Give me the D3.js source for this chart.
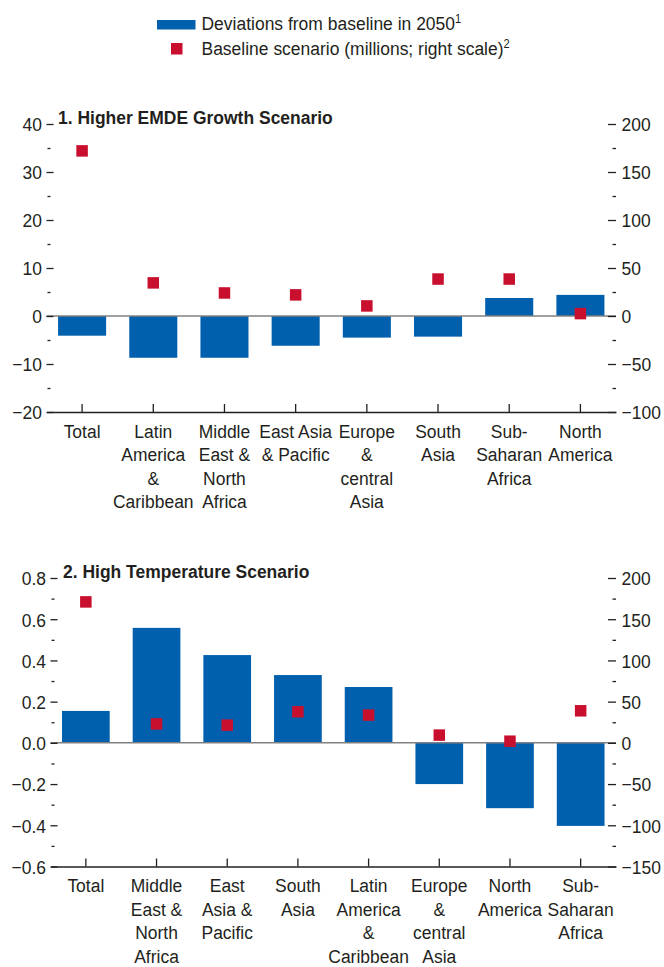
<!DOCTYPE html>
<html>
<head>
<meta charset="utf-8">
<script src="https://cdn.jsdelivr.net/npm/d3@7"></script>
<style>
  html, body { margin: 0; padding: 0; background: #fff; }
  svg { display: block; }
  text { font-family: "Liberation Sans", Arial, sans-serif; fill: #231f20; }
</style>
</head>
<body>
<svg id="chart" width="664" height="967"></svg>
<script>
// Panel 1: Higher EMDE Growth Scenario
const categories1 = [
  ["Total"],
  ["Latin", "America", "&", "Caribbean"],
  ["Middle", "East &", "North", "Africa"],
  ["East Asia", "& Pacific"],
  ["Europe", "&", "central", "Asia"],
  ["South", "Asia"],
  ["Sub-", "Saharan", "Africa"],
  ["North", "America"]
];
const deviations1 = [-4.1, -8.7, -8.7, -6.2, -4.5, -4.3, 3.75, 4.4];
const baseline1 = [172, 34.5, 24, 22, 10.5, 38.5, 38.5, 2.5];
const leftTicks1 = [-20, -10, 0, 10, 20, 30, 40];
const leftMinor1 = [-15, -5, 5, 15, 25, 35];
const rightTicks1 = [-100, -50, 0, 50, 100, 150, 200];
const rightMinor1 = [-75, -25, 25, 75, 125, 175];

// Panel 2: High Temperature Scenario
const categories2 = [
  ["Total"],
  ["Middle", "East &", "North", "Africa"],
  ["East", "Asia &", "Pacific"],
  ["South", "Asia"],
  ["Latin", "America", "&", "Caribbean"],
  ["Europe", "&", "central", "Asia"],
  ["North", "America"],
  ["Sub-", "Saharan", "Africa"]
];
const deviations2 = [0.155, 0.558, 0.426, 0.329, 0.271, -0.2, -0.317, -0.403];
const baseline2 = [171, 23, 21.5, 37.7, 33.7, 9.4, 2, 38.9];
const leftTicks2 = [-0.6, -0.4, -0.2, 0, 0.2, 0.4, 0.6, 0.8];
const leftMinor2 = [-0.5, -0.3, -0.1, 0.1, 0.3, 0.5, 0.7];
const rightTicks2 = [-150, -100, -50, 0, 50, 100, 150, 200];
const rightMinor2 = [-125, -75, -25, 25, 75, 125, 175];

const BLUE = "#0060ae";
const RED = "#c8102e";
const INK = "#231f20";
const FS = 19;      // base font size
const SX = 0.92;    // horizontal squeeze for the condensed look

const svg = d3.select("#chart");

// Legend
const legend = svg.append("g");
legend.append("rect").attr("x", 157).attr("y", 20).attr("width", 38.5).attr("height", 9.5).attr("fill", BLUE);
legend.append("rect").attr("x", 171).attr("y", 43).attr("width", 11.5).attr("height", 11.5).attr("fill", RED);
function legendText(y, main, sup) {
  const t = legend.append("text")
    .attr("transform", `translate(201.5,${y}) scale(${SX},1)`)
    .style("font-size", FS + "px");
  t.append("tspan").text(main);
  t.append("tspan").attr("dy", -7).style("font-size", "12px").text(sup);
}
legendText(30, "Deviations from baseline in 2050", "1");
legendText(54.5, "Baseline scenario (millions; right scale)", "2");

function drawPanel(cfg) {
  const g = svg.append("g");
  const x = d3.scaleBand()
    .domain(d3.range(cfg.categories.length))
    .range([cfg.left, cfg.right])
    .paddingInner(0.325)
    .paddingOuter(0.1625);
  const yL = d3.scaleLinear().domain(cfg.leftDomain).range([cfg.bottom, cfg.top]);
  const yR = d3.scaleLinear().domain(cfg.rightDomain).range([cfg.bottom, cfg.top]);

  // Bars
  g.append("g").selectAll("rect")
    .data(cfg.deviations)
    .join("rect")
    .attr("x", (d, i) => x(i))
    .attr("width", x.bandwidth())
    .attr("y", d => yL(Math.max(0, d)))
    .attr("height", d => Math.abs(yL(d) - yL(0)))
    .attr("fill", BLUE);

  // Zero line
  g.append("line")
    .attr("x1", cfg.left).attr("x2", cfg.right)
    .attr("y1", yL(0)).attr("y2", yL(0))
    .attr("stroke", "#808080").attr("stroke-width", 1.5);

  // Baseline markers (right scale)
  const sq = 11.5;
  g.append("g").selectAll("rect")
    .data(cfg.baseline)
    .join("rect")
    .attr("x", (d, i) => x(i) + x.bandwidth() / 2 - sq / 2)
    .attr("y", d => yR(d) - sq / 2)
    .attr("width", sq).attr("height", sq)
    .attr("fill", RED);

  function styleAxis(sel, anchor) {
    sel.select(".domain").remove();
    sel.selectAll(".tick line").attr("stroke", INK).attr("stroke-width", 1.3);
    sel.selectAll(".tick text")
      .attr("fill", INK)
      .attr("dy", null)
      .attr("y", 6.8)
      .style("font-size", FS + "px")
      .style("font-family", "'Liberation Sans', Arial, sans-serif")
      .attr("text-anchor", anchor)
      .attr("transform", function () {
        const xx = +d3.select(this).attr("x");
        d3.select(this).attr("x", 0);
        return `translate(${xx},0) scale(${SX},1)`;
      });
  }

  // Left axis (ticks point inward)
  const leftAx = g.append("g").attr("transform", `translate(${cfg.left},0)`)
    .call(d3.axisLeft(yL).tickValues(cfg.leftTicks).tickFormat(cfg.leftFormat)
      .tickSizeInner(-7).tickSizeOuter(0).tickPadding(4.5));
  styleAxis(leftAx, "end");
  const leftMin = g.append("g").attr("transform", `translate(${cfg.left + 1},0)`)
    .call(d3.axisLeft(yL).tickValues(cfg.leftMinor).tickFormat("").tickSizeInner(-3).tickSizeOuter(0));
  styleAxis(leftMin, "end");

  // Right axis (ticks point inward)
  const rightAx = g.append("g").attr("transform", `translate(${cfg.right},0)`)
    .call(d3.axisRight(yR).tickValues(cfg.rightTicks).tickFormat(d3.format("d"))
      .tickSizeInner(-8).tickSizeOuter(0).tickPadding(5.5));
  styleAxis(rightAx, "start");
  const rightMin = g.append("g").attr("transform", `translate(${cfg.right},0)`)
    .call(d3.axisRight(yR).tickValues(cfg.rightMinor).tickFormat("").tickSizeInner(-3.5).tickSizeOuter(0));
  styleAxis(rightMin, "start");

  // Category axis along the bottom
  const bottomAx = g.append("g").attr("transform", `translate(0,${cfg.bottom})`)
    .call(d3.axisBottom(x).tickFormat("").tickSizeInner(-8).tickSizeOuter(0));
  bottomAx.select(".domain").attr("stroke", INK).attr("stroke-width", 1.5);
  bottomAx.selectAll(".tick line").attr("stroke", INK).attr("stroke-width", 1.3);
  bottomAx.selectAll(".tick text").remove();
  bottomAx.selectAll(".tick").each(function (d) {
    const t = d3.select(this).append("text")
      .attr("text-anchor", "middle")
      .attr("transform", `translate(0,25.5) scale(${SX},1)`)
      .style("font-size", FS + "px")
      .attr("fill", INK);
    cfg.categories[d].forEach((line, k) => {
      t.append("tspan").attr("x", 0).attr("y", k * 23.6).text(line);
    });
  });

  // Panel title
  g.append("text")
    .attr("transform", `translate(${cfg.titleX},${cfg.top - 0.5}) scale(${SX},1)`)
    .style("font-size", FS + "px")
    .style("font-weight", "bold")
    .text(cfg.title);
}

drawPanel({
  title: "1. Higher EMDE Growth Scenario",
  titleX: 58,
  categories: categories1,
  deviations: deviations1,
  baseline: baseline1,
  leftDomain: [-20, 40], rightDomain: [-100, 200],
  leftTicks: leftTicks1, leftMinor: leftMinor1,
  rightTicks: rightTicks1, rightMinor: rightMinor1,
  leftFormat: d3.format("d"),
  left: 46.5, right: 616, top: 124, bottom: 412
});

drawPanel({
  title: "2. High Temperature Scenario",
  titleX: 63,
  categories: categories2,
  deviations: deviations2,
  baseline: baseline2,
  leftDomain: [-0.6, 0.8], rightDomain: [-150, 200],
  leftTicks: leftTicks2, leftMinor: leftMinor2,
  rightTicks: rightTicks2, rightMinor: rightMinor2,
  leftFormat: d3.format(".1f"),
  left: 50.5, right: 616, top: 578, bottom: 866.5
});
</script>
</body>
</html>
